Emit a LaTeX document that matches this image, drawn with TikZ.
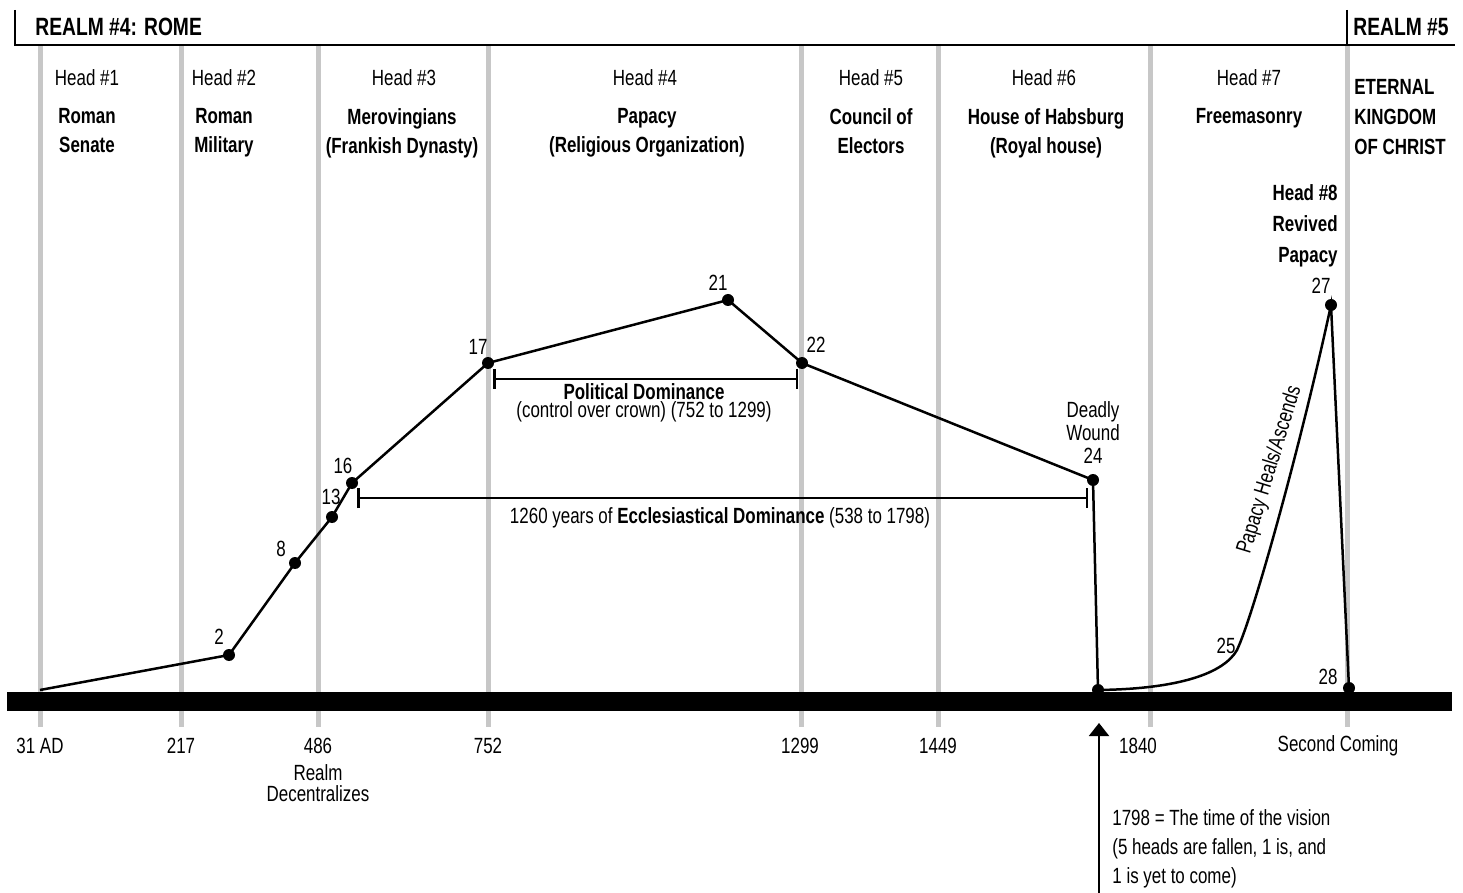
\documentclass[tikz,border=0pt]{standalone}
\usepackage{fontspec}
\setmainfont{Liberation Sans}[FakeStretch=0.77]
\usetikzlibrary{arrows.meta}
\tikzset{
  era/.style={draw=black!22, line width=2.5pt},
  lbl/.style={font=\fontsize{11}{14.5}\selectfont, inner sep=0pt, align=center},
  ttl/.style={lbl, font=\fontsize{11}{14.5}\selectfont\bfseries, execute at begin node=\strut, execute at end node=\strut},
  num/.style={lbl},
}
\begin{document}
\begin{tikzpicture}[x=0.5pt,y=-0.5pt] % 1 unit = 1 px of the target
      \useasboundingbox (0,0) rectangle (1463,893);

      % Garis waktu: batas era (abu-abu)
      \foreach \x in {40,181,318,488,801,938,1150,1347}{
          \draw[era] (\x,45) -- (\x,727);
        }

      % Kepala bagian atas
      \coordinate (RL) at (15,10);
      \coordinate (RR) at (1347,10);
      \draw[line width=1.25pt] (RL) -- (15,45) -- (1455,45);
      \draw[line width=1.25pt] (RR) -- (1347,45);
      \node[lbl, anchor=west, font=\fontsize{12.5}{14}\selectfont\bfseries] (realm4) at (35,27) {REALM \#4: ROME};
      \node[lbl, anchor=west, font=\fontsize{12.5}{14}\selectfont\bfseries] (realm5) at (1353,27) {REALM \#5};

      % Nama kepala
      \node[lbl] (h1) at (87,78) {Head \#1};
      \node[lbl] (h2) at (224,78) {Head \#2};
      \node[lbl] (h3) at (404,78) {Head \#3};
      \node[lbl] (h4) at (645,78) {Head \#4};
      \node[lbl] (h5) at (871,78) {Head \#5};
      \node[lbl] (h6) at (1044,78) {Head \#6};
      \node[lbl] (h7) at (1249,78) {Head \#7};
      \node[ttl] (t1) at (87,135) {Roman\\Senate};
      \node[ttl] (t2) at (224,135) {Roman\\Military};
      \node[ttl] (t3) at (402,135) {Merovingians\\(Frankish Dynasty)};
      \node[ttl] (t4) at (647,135) {Papacy\\(Religious Organization)};
      \node[ttl] (t5) at (871,135) {Council of\\Electors};
      \node[ttl] (t6) at (1046,135) {House of Habsburg\\(Royal house)};
      \node[ttl] (t7) at (1249,118) {Freemasonry};
      \node[ttl, align=left, anchor=west, font=\fontsize{11}{15}\selectfont\bfseries] (t9) at (1354,121) {ETERNAL\\KINGDOM\\OF CHRIST};
      \node[ttl, align=right, anchor=east, font=\fontsize{11}{15.5}\selectfont\bfseries] (t8) at (1338,228) {Head \#8\\Revived\\Papacy};

      % Titik-titik kurva
      \coordinate (P0) at (40,690);
      \coordinate (P2) at (229,655);
      \coordinate (P8) at (295,563);
      \coordinate (P13) at (332,517);
      \coordinate (P16) at (352,483);
      \coordinate (P17) at (488,363);
      \coordinate (P21) at (728,300);
      \coordinate (P22) at (802,363);
      \coordinate (P24) at (1093,480);
      \coordinate (P24b) at (1098,690);
      \coordinate (P25) at (1237,650);
      \coordinate (P27) at (1331,305);
      \coordinate (P28) at (1349,688);

      % Kurva utama
      \draw[line width=1.25pt] (P0) -- (P2) -- (P8) -- (P13) -- (P16) -- (P17) -- (P21) -- (P22) -- (P24) -- (P24b);
      \draw[line width=1.25pt] (P24b) .. controls (1180,689) and (1224,673) .. (P25)
                                       .. controls (1254,614) and (1302,440) .. (P27) -- (P28);

      % Garis dasar
      \coordinate (BL) at (7,701);
      \coordinate (BR) at (1452,701);
      \draw[line width=9.5pt] (BL) -- (BR);

      % Titik-titik
      \foreach \p in {P2,P8,P13,P16,P17,P21,P22,P24,P24b,P27,P28}{
          \fill (\p) circle (3pt);
        }

      % Label titik
      \node[num] (l2) at (219,637) {2};
      \node[num] (l8) at (281,549) {8};
      \node[num] (l13) at (331,497) {13};
      \node[num] (l16) at (343,466) {16};
      \node[num] (l17) at (478,347) {17};
      \node[num] (l21) at (718,283) {21};
      \node[num] (l22) at (816,345) {22};
      \node[lbl, font=\fontsize{11}{11.5}\selectfont] (dw) at (1093,421) {Deadly\\Wound};
      \node[num] (l24) at (1093,456) {24};
      \node[num] (l25) at (1226,646) {25};
      \node[num] (l27) at (1321,286) {27};
      \node[num] (l28) at (1328,677) {28};
      \node[lbl, rotate=73] (heal) at (1270,470) {Papacy Heals/Ascends};

      % Rentang dominasi
      \coordinate (pdL) at (493,379);
      \coordinate (pdR) at (798,379);
      \draw[line width=1.25pt, {Bar[width=10pt]}-{Bar[width=10pt]}] (pdL) -- (pdR);
      \node[lbl, font=\fontsize{11}{9}\selectfont] (pd) at (644,403) {\textbf{Political Dominance}\\(control over crown) (752 to 1299)};
      \coordinate (edL) at (357,498);
      \coordinate (edR) at (1088,498);
      \draw[line width=1.25pt, {Bar[width=10pt]}-{Bar[width=10pt]}] (edL) -- (edR);
      \node[lbl] (ed) at (720,518) {1260 years of \textbf{Ecclesiastical Dominance} (538 to 1798)};

      % Tahun
      \node[lbl] (y31) at (40,746) {31 AD};
      \node[lbl] (y217) at (181,746) {217};
      \node[lbl] (y486) at (318,746) {486};
      \node[lbl, font=\fontsize{11}{10.5}\selectfont] (dec) at (318,783) {Realm\\Decentralizes};
      \node[lbl] (y752) at (488,746) {752};
      \node[lbl] (y1299) at (800,746) {1299};
      \node[lbl] (y1449) at (938,746) {1449};
      \node[lbl] (y1840) at (1138,746) {1840};
      \node[lbl] (ysc) at (1338,746) {Second Coming};

      % Panah waktu penglihatan
      \coordinate (vis) at (1099,893);
      \coordinate (visT) at (1099,723);
      \draw[line width=1pt, -{Triangle[width=10pt,length=6.5pt]}] (vis) -- (visT);
      \node[lbl, align=left, anchor=west] (note) at (1112,849) {1798 = The time of the vision\\(5 heads are fallen, 1 is, and\\1 is yet to come)};
    \end{tikzpicture}
\end{document}
